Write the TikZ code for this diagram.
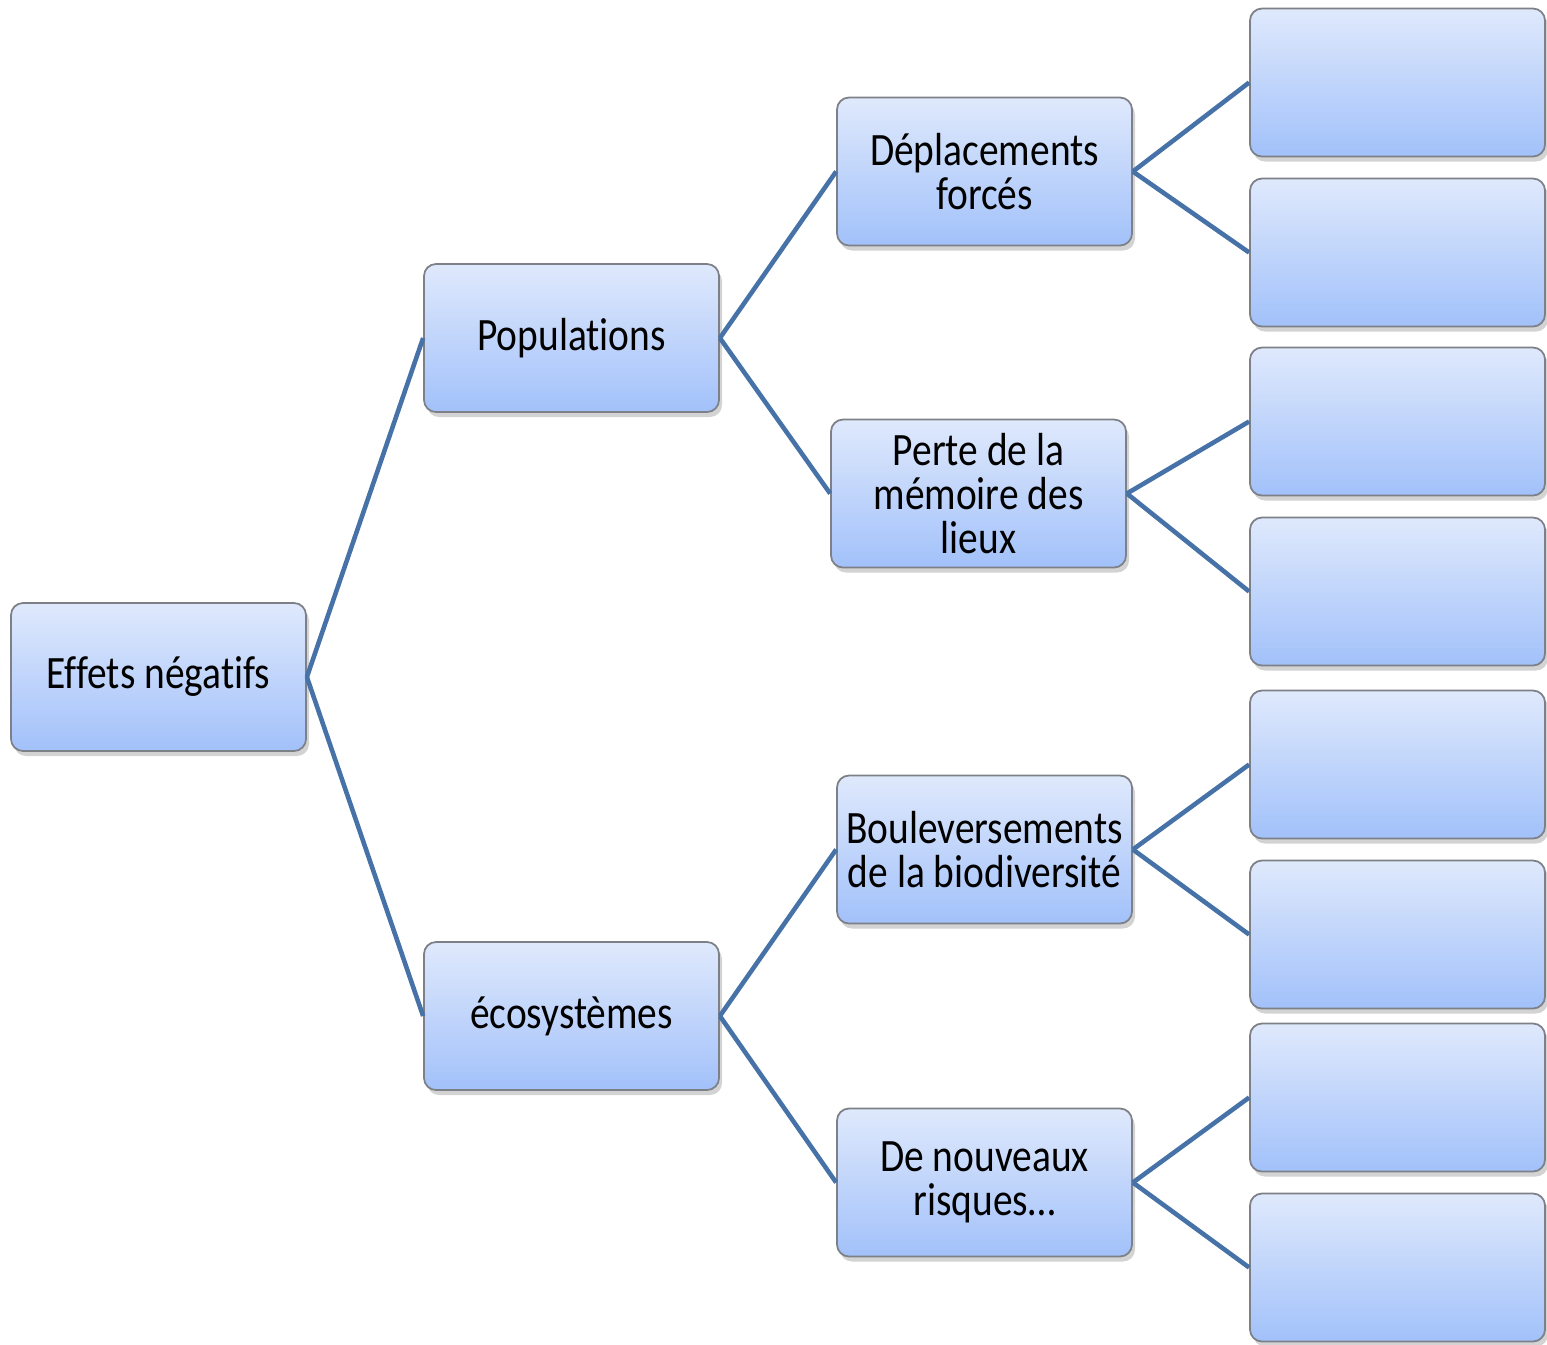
\documentclass[tikz,border=0pt]{standalone}
\usepackage{fontspec}
\setmainfont{Carlito}[FakeStretch=0.85,Ligatures=NoCommon]
\usetikzlibrary{shadows}

\definecolor{linkblue}{RGB}{70,114,168}
\definecolor{boxtop}{RGB}{223,233,252}
\definecolor{boxbottom}{RGB}{162,193,250}
\definecolor{boxedge}{RGB}{125,128,135}

\tikzset{
	box/.style={rectangle,rounded corners=1.2mm,draw=boxedge,line width=0.5pt,
		top color=boxtop,bottom color=boxbottom,
		minimum width=2.95cm,minimum height=1.48cm,inner sep=0,align=center,
		font=\fontsize{13.2}{12.5}\selectfont,
		drop shadow={shadow xshift=0.3mm,shadow yshift=-0.5mm,opacity=0.35}}
}

\begin{document}
\begin{tikzpicture}[grow'=right,level distance=4.13cm,
		level 1/.style={sibling distance=6.78cm},
		level 2/.style={sibling distance=3.33cm},
		level 3/.style={sibling distance=1.70cm},
		edge from parent/.style={draw=linkblue,line width=1.3pt},
		edge from parent path={(\tikzparentnode.east) -- (\tikzchildnode.west)}]
		\useasboundingbox (0,0) rectangle (15.47,-13.44);
		\begin{scope}[nodes={box}]
		\node (eff) at (1.585,-6.77) {Effets négatifs}
		child { node (pop) {Populations}
			child { node (depl) {Déplacements\\forcés}
				child { node (depl1) [yshift=0.04cm] {} }
				child { node (depl2) [yshift=0.04cm] {} }
			}
			child { node (perte) [xshift=-0.06cm,yshift=0.11cm] {Perte de la\\mémoire des\\lieux}
				child { node (perte1) [xshift=0.06cm,yshift=-0.13cm] {} }
				child { node (perte2) [xshift=0.06cm,yshift=-0.13cm] {} }
			}
		}
		child { node (eco) {écosystèmes}
			child { node (boul) {Bouleversements\\de la biodiversité}
				child { node (boul1) {} }
				child { node (boul2) {} }
			}
			child { node (risq) {De nouveaux\\risques…}
				child { node (risq1) {} }
				child { node (risq2) {} }
			}
		};
		\end{scope}
\end{tikzpicture}
\end{document}
